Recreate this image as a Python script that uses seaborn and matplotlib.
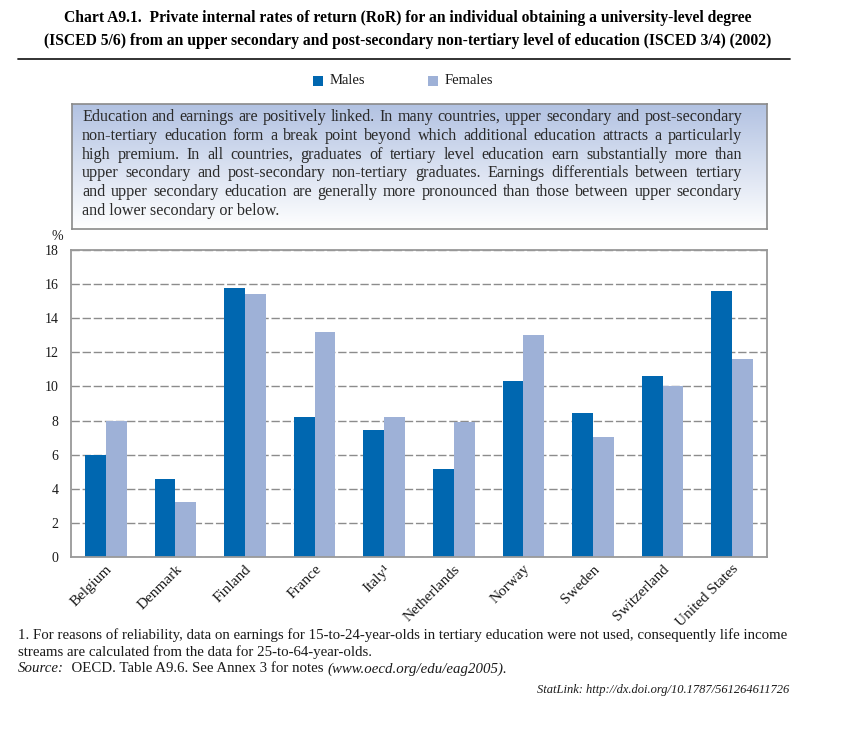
import numpy as np
import pandas as pd
import matplotlib
matplotlib.use("Agg")
import matplotlib.pyplot as plt
import seaborn as sns
from matplotlib.patches import Rectangle
from matplotlib.lines import Line2D

# ---------------- data ----------------
countries = ["Belgium", "Denmark", "Finland", "France", "Italy\u00b9",
             "Netherlands", "Norway", "Sweden", "Switzerland", "United States"]
males = [6.0, 4.6, 15.8, 8.2, 7.45, 5.15, 10.3, 8.45, 10.6, 15.6]
females = [8.0, 3.2, 15.4, 13.2, 8.2, 7.9, 13.0, 7.05, 10.0, 11.6]
series = ["Males", "Females"]
yticks = [0, 2, 4, 6, 8, 10, 12, 14, 16, 18]

title_lines = [
    "Chart A9.1.  Private internal rates of return (RoR) for an individual obtaining a university-level degree",
    "(ISCED 5/6) from an upper secondary and post-secondary non-tertiary level of education (ISCED 3/4) (2002)",
]
box_lines = [
    "Education and earnings are positively linked. In many countries, upper secondary and post-secondary",
    "non-tertiary education form a break point beyond which additional education attracts a particularly",
    "high premium. In all countries, graduates of tertiary level education earn substantially more than",
    "upper secondary and post-secondary non-tertiary graduates. Earnings differentials between tertiary",
    "and upper secondary education are generally more pronounced than those between upper secondary",
    "and lower secondary or below.",
]
note_lines = [
    "1. For reasons of reliability, data on earnings for 15-to-24-year-olds in tertiary education were not used, consequently life income",
    "streams are calculated from the data for 25-to-64-year-olds.",
]
source_parts = [("Source:", "italic"), ("  OECD. Table A9.6. See Annex 3 for notes ", "normal"),
                ("(www.oecd.org/edu/eag2005).", "italic")]
statlink = "StatLink: http://dx.doi.org/10.1787/561264611726"

c_m = "#0067b0"
c_f = "#9eb1d7"
txt = "#1a1a1a"

# ---------------- figure ----------------
sns.set_theme(style="white")
plt.rcParams["font.family"] = ["Liberation Serif", "DejaVu Serif"]

W, H = 844, 729
fig = plt.figure(figsize=(W / 100, H / 100), dpi=100)
fig.patch.set_facecolor("white")
renderer = fig.canvas.get_renderer()


def fx(x):
    return x / W


def fy(y):
    return 1 - y / H


def measure(s, size, weight="normal", style="normal"):
    t = fig.text(0, 0, s, fontsize=size, weight=weight, style=style)
    w = t.get_window_extent(renderer).width
    t.remove()
    return w


def fit_size(s, target, base=11, weight="normal", style="normal"):
    w = measure(s, base, weight, style)
    return base * target / w


# ---------------- title ----------------
ts = fit_size(title_lines[0], 686, weight="bold")
for s, y in zip(title_lines, [18, 41]):
    fig.text(fx(408), fy(y), s, fontsize=ts, weight="bold", color="black",
             ha="center", va="center")
fig.add_artist(Line2D([fx(18), fx(790)], [fy(59), fy(59)], color="#222222", lw=1.3))

# ---------------- legend ----------------
for (lab, col, xs) in [("Males", c_m, 313), ("Females", c_f, 428)]:
    fig.add_artist(Rectangle((fx(xs), fy(86)), 10 / W, 10 / H, facecolor=col,
                             edgecolor="none", transform=fig.transFigure))
    fig.text(fx(xs + 17), fy(81), lab, fontsize=10.5, color=txt, va="center", ha="left")

# ---------------- text box ----------------
bx0, bx1, by0, by1 = 72, 767, 104, 229
bax = fig.add_axes([fx(bx0), fy(by1), (bx1 - bx0) / W, (by1 - by0) / H])
top = np.array([0xb2, 0xc2, 0xe2]) / 255
bot = np.array([1.0, 1.0, 1.0])
tt = np.linspace(0, 1, 200)[:, None]
grad = (top[None, :] * (1 - tt) + bot[None, :] * tt)[:, None, :]
bax.imshow(grad, aspect="auto", extent=[0, 1, 0, 1], origin="upper")
bax.set_xlim(0, 1)
bax.set_ylim(0, 1)
bax.set_xticks([])
bax.set_yticks([])
for sp in bax.spines.values():
    sp.set_color("#8a8a8a")
    sp.set_linewidth(1.2)

bs = fit_size(box_lines[0], 655)
tx0, tx1 = 82, 742
for i, line in enumerate(box_lines):
    y = 117 + i * 18.8
    words = line.split(" ")
    if i == len(box_lines) - 1:
        fig.text(fx(tx0), fy(y), line, fontsize=bs, color="#2a2a2a", va="center", ha="left")
        continue
    widths = [measure(w, bs) for w in words]
    gap = (tx1 - tx0 - sum(widths)) / (len(words) - 1)
    x = tx0
    for w, wd in zip(words, widths):
        fig.text(fx(x), fy(y), w, fontsize=bs, color="#2a2a2a", va="center", ha="left")
        x += wd + gap

# ---------------- bar chart ----------------
ax = fig.add_axes([fx(71), fy(557), (767 - 71) / W, (557 - 250) / H])
df = pd.DataFrame({
    "Country": countries * 2,
    "Value": males + females,
    "Sex": [series[0]] * len(countries) + [series[1]] * len(countries),
})
sns.barplot(data=df, x="Country", y="Value", hue="Sex", hue_order=series,
            palette=[c_m, c_f], saturation=1, width=0.6, linewidth=0,
            errorbar=None, legend=False, ax=ax)
ax.set_xlim(-0.5, len(countries) - 0.5)
ax.set_ylim(0, 18)
ax.set_yticks(yticks)
ax.set_yticklabels([str(v) for v in yticks], fontsize=10, color=txt)
ax.set_xticks(range(len(countries)))
ax.set_xticklabels(countries, rotation=45, ha="right", rotation_mode="anchor",
                   fontsize=11, color=txt)
ax.tick_params(axis="both", length=0)
ax.tick_params(axis="y", pad=9)
ax.tick_params(axis="x", pad=4)
ax.set_xlabel("")
ax.set_ylabel("")
ax.yaxis.grid(True, linestyle=(0, (6, 2)), color="#8c8c8c", lw=1.0)
ax.xaxis.grid(False)
ax.set_axisbelow(True)
for sp in ax.spines.values():
    sp.set_visible(True)
    sp.set_color("#999999")
    sp.set_linewidth(1.3)
fig.text(fx(57), fy(237), "%", fontsize=10, color=txt, ha="center", va="center")

# ---------------- notes ----------------
ns = fit_size(note_lines[0], 769)
fig.text(fx(18), fy(635), note_lines[0], fontsize=ns, color=txt, va="center", ha="left")
fig.text(fx(18), fy(652), note_lines[1], fontsize=ns, color=txt, va="center", ha="left")
x = 18
for s, st in source_parts:
    fig.text(fx(x), fy(669), s, fontsize=ns, style=st, color=txt, va="center", ha="left")
    x += measure(s, ns, style=st)

ss = fit_size(statlink, 252, style="italic")
fig.text(fx(789), fy(690), statlink, fontsize=ss, style="italic", color=txt,
         va="center", ha="right")

fig.savefig("out.png", dpi=100)
